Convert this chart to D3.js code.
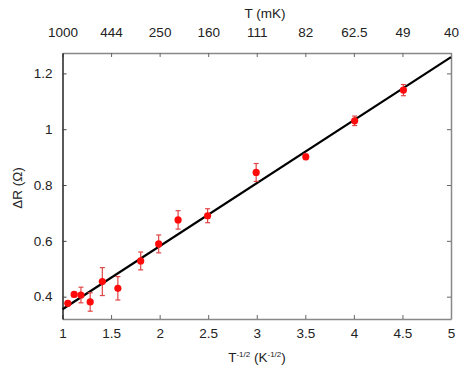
<!DOCTYPE html>
<html>
<head>
<meta charset="utf-8">
<script src="https://d3js.org/d3.v7.min.js"></script>
<style>
body { margin: 0; background: white; }
text { font-family: "Liberation Sans", Arial, sans-serif; fill: #222; }
</style>
</head>
<body>
<svg id="chart" width="463" height="368"></svg>
<script>
// measured points: x = T^-1/2 (K^-1/2), y = dR (Ohm), e = error bar half height
var xs = [1.055, 1.12, 1.19, 1.285, 1.41, 1.57, 1.805, 1.99, 2.19, 2.494, 2.994, 3.505, 4.008, 4.51];
var ys = [0.376, 0.408, 0.406, 0.381, 0.454, 0.43, 0.528, 0.589, 0.675, 0.69, 0.845, 0.901, 1.03, 1.14];
var errs = [0.008, 0.008, 0.028, 0.033, 0.05, 0.042, 0.032, 0.032, 0.033, 0.025, 0.032, 0.01, 0.017, 0.02];

// linear fit
var fitX = [1, 5];
var fitY = [0.355, 1.258];

var xTicks = [1, 1.5, 2, 2.5, 3, 3.5, 4, 4.5, 5];
var yTicks = [0.4, 0.6, 0.8, 1, 1.2];
var topLabels = ["1000", "444", "250", "160", "111", "82", "62.5", "49", "40"];

var svg = d3.select("#chart");
var pLeft = 62.5, pRight = 451, pTop = 53, pBottom = 319;

var x = d3.scaleLinear().domain([1, 5]).range([pLeft, pRight]);
var y = d3.scaleLinear().domain([0.32, 1.273]).range([pBottom, pTop]);

// axes (ticks pointing inward)
var bx = svg.append("g").attr("transform", "translate(0," + pBottom + ")")
  .call(d3.axisBottom(x).tickValues(xTicks).tickSizeInner(-4).tickSizeOuter(0).tickPadding(9)
        .tickFormat(d3.format("~g")));
var tx = svg.append("g").attr("transform", "translate(0," + pTop + ")")
  .call(d3.axisTop(x).tickValues(xTicks).tickSizeInner(-4).tickSizeOuter(0).tickPadding(16)
        .tickFormat(function(d, i) { return topLabels[i]; }));
var ly = svg.append("g").attr("transform", "translate(" + pLeft + ",0)")
  .call(d3.axisLeft(y).tickValues(yTicks).tickSizeInner(-4).tickSizeOuter(0).tickPadding(10)
        .tickFormat(d3.format("~g")));
var ry = svg.append("g").attr("transform", "translate(" + pRight + ",0)")
  .call(d3.axisRight(y).tickValues(yTicks).tickSizeInner(-4).tickSizeOuter(0).tickFormat(""));

[bx, tx, ry].forEach(function(g) {
  g.select(".domain").attr("stroke", "#888").attr("stroke-width", 1.5);
  g.selectAll(".tick line").attr("stroke", "#666");
});
ly.select(".domain").attr("stroke", "#222").attr("stroke-width", 1.5);
ly.selectAll(".tick line").attr("stroke", "#444");
svg.selectAll(".tick text").style("font-size", "13.5px").attr("fill", "#222")
  .style("font-family", "'Liberation Sans', Arial, sans-serif");

// fit line
svg.append("line")
  .attr("x1", x(fitX[0])).attr("y1", y(fitY[0]))
  .attr("x2", x(fitX[1])).attr("y2", y(fitY[1]))
  .attr("stroke", "black").attr("stroke-width", 2.2);

// error bars
var pts = xs.map(function(d, i) { return {x: d, y: ys[i], e: errs[i]}; });
var eb = svg.append("g").attr("stroke", "#e04545").attr("stroke-width", 1.2);
pts.forEach(function(p) {
  eb.append("line").attr("x1", x(p.x)).attr("x2", x(p.x))
    .attr("y1", y(p.y - p.e)).attr("y2", y(p.y + p.e));
  [p.y - p.e, p.y + p.e].forEach(function(v) {
    eb.append("line").attr("x1", x(p.x) - 2.5).attr("x2", x(p.x) + 2.5)
      .attr("y1", y(v)).attr("y2", y(v));
  });
});

svg.append("g").selectAll("circle").data(pts).enter().append("circle")
  .attr("cx", function(d) { return x(d.x); })
  .attr("cy", function(d) { return y(d.y); })
  .attr("r", 3.6)
  .attr("fill", "#ff0a0a");

// titles
svg.append("text").attr("x", 265).attr("y", 18).attr("text-anchor", "middle")
  .style("font-size", "13.5px").text("T (mK)");

var xt = svg.append("text").attr("x", 257).attr("y", 362).attr("text-anchor", "middle")
  .style("font-size", "13.5px");
xt.append("tspan").text("T");
xt.append("tspan").attr("dy", -5).style("font-size", "8px").text("-1/2");
xt.append("tspan").attr("dy", 5).text(" (K");
xt.append("tspan").attr("dy", -5).style("font-size", "8px").text("-1/2");
xt.append("tspan").attr("dy", 5).text(")");

svg.append("text").attr("transform", "translate(22,188) rotate(-90)")
  .attr("text-anchor", "middle").style("font-size", "13.5px").text("ΔR (Ω)");
</script>
</body>
</html>
